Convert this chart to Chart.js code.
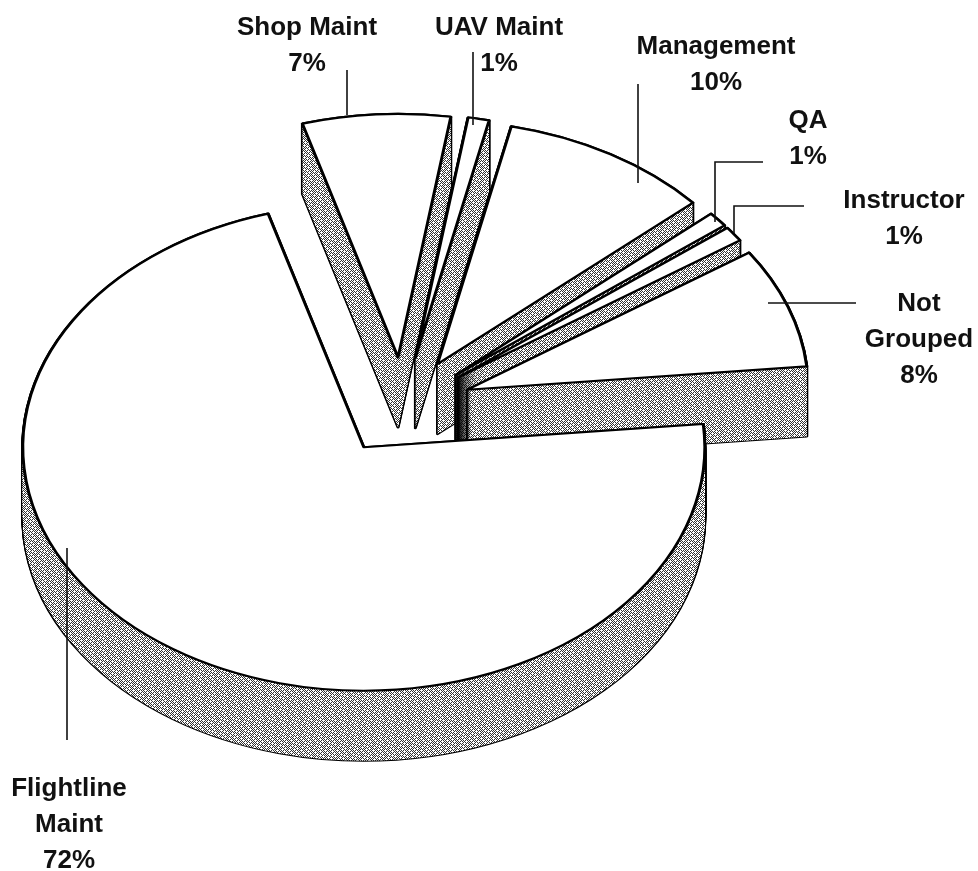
<!DOCTYPE html>
<html>
<head>
<meta charset="utf-8">
<style>
  html, body { margin: 0; padding: 0; background: #fff; }
  canvas { display: block; }
</style>
<script src="https://cdn.jsdelivr.net/npm/chart.js@4/dist/chart.umd.min.js"></script>
</head>
<body>
<canvas id="pie" width="978" height="871"></canvas>
<script>
const categories = ['Flightline Maint', 'Shop Maint', 'UAV Maint', 'Management', 'QA', 'Instructor', 'Not Grouped'];
const shares = [72, 7, 1, 10, 1, 1, 8];

// label wrapping, the name lines come first and the percentage is added below
const labelLines = [['Flightline', 'Maint'], ['Shop Maint'], ['UAV Maint'], ['Management'], ['QA'], ['Instructor'], ['Not', 'Grouped']];
const labelX = [69, 307, 499, 716, 808, 904, 919];
const labelY = [789, 28, 28, 47, 121, 201, 304];
const leaders = [
  [[67, 548], [67, 740]],
  [[347, 115], [347, 70]],
  [[473, 125], [473, 52]],
  [[638, 183], [638, 84]],
  [[715, 222], [715, 162], [763, 162]],
  [[734, 233], [734, 206], [804, 206]],
  [[768, 303], [856, 303]]
];

const TILT = 0.714;
const DEPTH = 70;
const EXPLODE = 69;
const LINE_HEIGHT = 36;

function ditherPattern(ctx) {
  const rows = [
    '.#.#.#.#.#..',
    '#.#...#.#.#.',
    '.#.#.#...#.#',
    '#...#.#.#.#.',
    '.#.#.#.#...#',
    '#.#.#...#.#.',
    '...#.#.#.#.#',
    '#.#.#.#...#.',
    '.#...#.#.#.#',
    '#.#.#.#.#...',
    '.#.#...#.#.#',
    '#.#.#.#...#.'
  ];
  const tile = document.createElement('canvas');
  tile.width = 12;
  tile.height = 12;
  const t = tile.getContext('2d');
  t.fillStyle = '#fff';
  t.fillRect(0, 0, 12, 12);
  t.fillStyle = '#333';
  rows.forEach((r, y) => [...r].forEach((c, x) => {
    if (c === '#') t.fillRect(x, y, 1, 1);
  }));
  return ctx.createPattern(tile, 'repeat');
}

// draw one arc with the pie squashed and pushed out along its own mid angle
function drawArc(ctx, arc, depth, style, pattern) {
  const mid = (arc.startAngle + arc.endAngle) / 2;
  const base = arc.options;
  ctx.save();
  ctx.translate(arc.x, arc.y + depth);
  ctx.scale(1, TILT);
  ctx.translate(-arc.x, -arc.y);
  ctx.translate(Math.cos(mid) * EXPLODE, Math.sin(mid) * EXPLODE);
  if (pattern) pattern.setTransform(ctx.getTransform().inverse());
  arc.options = Object.assign(Object.create(base), style);
  arc.draw(ctx);
  arc.options = base;
  ctx.restore();
}

const tiltedPie = {
  id: 'tiltedPie',
  beforeDatasetsDraw(chart) {
    const ctx = chart.ctx;
    const pattern = ditherPattern(ctx);
    const arcs = chart.getDatasetMeta(0).data;
    // back to front, Flightline sits in front of everything
    const order = [1, 2, 3, 4, 5, 6, 0];
    order.forEach(i => {
      const arc = arcs[i];
      for (let d = DEPTH; d >= 0; d--) {
        drawArc(ctx, arc, d, { backgroundColor: '#000', borderColor: '#000', borderWidth: 3 });
      }
      for (let d = DEPTH; d >= 0; d--) {
        drawArc(ctx, arc, d, { backgroundColor: pattern, borderWidth: 0 }, pattern);
      }
      drawArc(ctx, arc, 0, { backgroundColor: '#fff', borderColor: '#000', borderWidth: 3 });
    });
    return false;
  },
  afterDraw(chart) {
    const ctx = chart.ctx;
    ctx.save();
    ctx.strokeStyle = '#111';
    ctx.lineWidth = 1.6;
    leaders.forEach(pts => {
      ctx.beginPath();
      pts.forEach((p, i) => i ? ctx.lineTo(p[0], p[1]) : ctx.moveTo(p[0], p[1]));
      ctx.stroke();
    });
    ctx.fillStyle = '#111';
    ctx.font = 'bold 26px "Liberation Sans", Arial, sans-serif';
    ctx.textAlign = 'center';
    ctx.textBaseline = 'middle';
    categories.forEach((name, i) => {
      const lines = [...labelLines[i], `${shares[i]}%`];
      lines.forEach((line, n) => ctx.fillText(line, labelX[i], labelY[i] + n * LINE_HEIGHT));
    });
    ctx.restore();
  }
};

new Chart(document.getElementById('pie'), {
  type: 'pie',
  data: {
    labels: categories,
    datasets: [{ data: shares, backgroundColor: '#fff', borderColor: '#000', borderWidth: 3, borderJoinStyle: 'round' }]
  },
  plugins: [tiltedPie],
  options: {
    responsive: false,
    animation: false,
    rotation: 84.5,
    radius: 341,
    layout: { padding: { right: 173, bottom: 58 } },
    plugins: { legend: { display: false }, tooltip: { enabled: false } }
  }
});
</script>
</body>
</html>
